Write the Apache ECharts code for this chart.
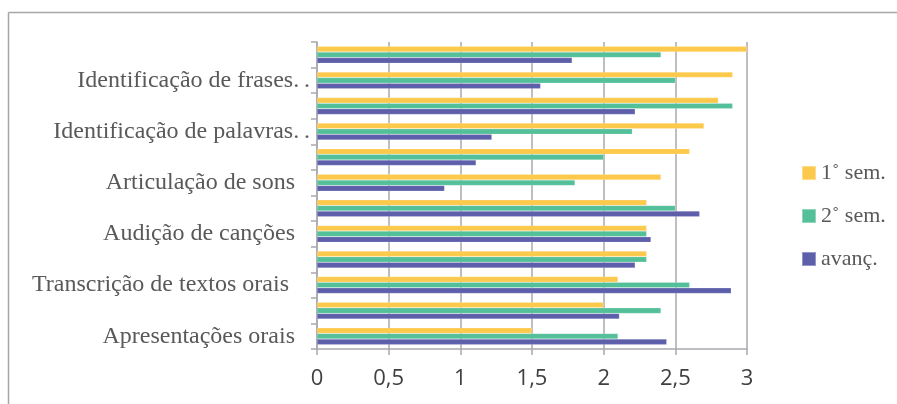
<!DOCTYPE html>
<html>
<head>
<meta charset="utf-8">
<script src="https://cdn.jsdelivr.net/npm/echarts@6/dist/echarts.min.js"></script>
<style>
  html, body { margin: 0; padding: 0; background: #fff; }
  #chart { width: 897px; height: 404px; }
</style>
</head>
<body>
<div id="chart"></div>
<script>
// Categories from bottom to top; every second one carries a printed label.
const categories = [
  'Apresentações orais', '',
  'Transcrição de textos orais ', '',
  'Audição de canções', '',
  'Articulação de sons', '',
  'Identificação de palavras.\u2009.', '',
  'Identificação de frases.\u2009.', ''
];
// Truncated labels whose trailing dots run past the label column
const overhangingLabels = ['Identificação de palavras.\u2009.', 'Identificação de frases.\u2009.'];
const seriesNames = ['1˚ sem.', '2˚ sem.', 'avanç.'];
const sem1 = [1.5, 2.0, 2.1, 2.3, 2.3, 2.3, 2.4, 2.6, 2.7, 2.8, 2.9, 3.0];
const sem2 = [2.1, 2.4, 2.6, 2.3, 2.3, 2.5, 1.8, 2.0, 2.2, 2.9, 2.5, 2.4];
const avanc = [2.44, 2.11, 2.89, 2.22, 2.33, 2.67, 0.89, 1.11, 1.22, 2.22, 1.56, 1.78];
const xTicks = [0, 0.5, 1, 1.5, 2, 2.5, 3];

const colors = ['#FDC94D', '#54C09A', '#5D5FAB'];
const serif = '"Liberation Serif", "DejaVu Serif", serif';
const sans = '"Open Sans", "Noto Sans", sans-serif';
const gray = '#A9A9AE';

const chart = echarts.init(document.getElementById('chart'), null, { renderer: 'canvas' });

function barSeries(name, values, color) {
  return {
    name: name,
    type: 'bar',
    data: values,
    barGap: '0%',
    barCategoryGap: '34%',
    itemStyle: { color: color, borderColor: 'rgba(255,255,255,0.35)', borderWidth: 0.5 },
    emphasis: { disabled: true },
    animation: false
  };
}

const yData = categories.map((c, i) => overhangingLabels.indexOf(c) >= 0
  ? { value: c, textStyle: { padding: [0, -15, 0, 0] } }
  : c);

chart.setOption({
  animation: false,
  grid: { left: 317, top: 42, width: 430, height: 307, containLabel: false },
  xAxis: {
    type: 'value',
    min: xTicks[0],
    max: xTicks[xTicks.length - 1],
    interval: 0.5,
    axisLine: { show: true, lineStyle: { color: gray, width: 1.5 } },
    axisTick: { show: true, length: 6, lineStyle: { color: gray, width: 1.5 } },
    splitLine: { show: true, lineStyle: { color: gray, width: 1.5 } },
    axisLabel: {
      color: '#404040',
      fontFamily: sans,
      fontSize: 22,
      margin: 19,
      formatter: v => String(v).replace('.', ',')
    }
  },
  yAxis: {
    type: 'category',
    data: yData,
    axisLine: { show: true, lineStyle: { color: gray, width: 1.5 } },
    axisTick: { show: true, length: 6, interval: 0, lineStyle: { color: gray, width: 1.5 } },
    splitLine: { show: false },
    axisLabel: {
      interval: 0,
      color: '#595959',
      fontFamily: serif,
      fontSize: 24,
      margin: 22
    }
  },
  legend: {
    orient: 'vertical',
    left: 796,
    top: 157,
    itemWidth: 14,
    itemHeight: 14,
    itemGap: 21,
    icon: 'rect',
    data: seriesNames,
    textStyle: { color: '#595959', fontFamily: serif, fontSize: 22 }
  },
  graphic: [
    { type: 'line', shape: { x1: 8.5, y1: 12.5, x2: 897, y2: 12.5 }, style: { stroke: '#A6A6A6', lineWidth: 1.5 } },
    { type: 'line', shape: { x1: 8.5, y1: 12.5, x2: 8.5, y2: 404 }, style: { stroke: '#A6A6A6', lineWidth: 1.5 } }
  ],
  series: [
    barSeries(seriesNames[0], sem1, colors[0]),
    barSeries(seriesNames[1], sem2, colors[1]),
    barSeries(seriesNames[2], avanc, colors[2])
  ]
});
</script>
</body>
</html>
